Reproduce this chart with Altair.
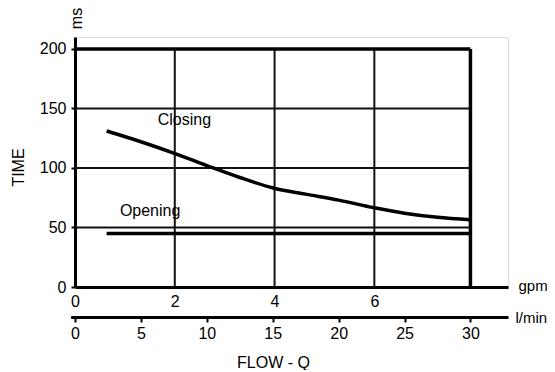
import altair as alt
import pandas as pd

# ---- data ----
FLOW_CLOSING = [2.4, 5.0, 7.6, 10.0, 12.5, 15.1, 17.5, 20.0, 22.7, 25.0, 27.5, 30.0]   # l/min
TIME_CLOSING = [131, 122, 112, 102, 92, 83, 78, 73, 66.5, 62, 58.5, 56.5]            # ms
FLOW_OPENING = [2.4, 30.0]
TIME_OPENING = [45, 45]

GPM_TICKS = [0, 2, 4, 6]
LMIN_TICKS = [0, 5, 10, 15, 20, 25, 30]
TIME_TICKS = [0, 50, 100, 150, 200]
GRID_TIME = [50, 100, 150]
GRID_GPM = [2, 4, 6]

LABELS = ["Closing", "Opening"]
LABEL_FLOW = [8.3, 5.7]
LABEL_TIME = [140, 64]

LPM_PER_GPM = 3.785
FLOW_MAX = LMIN_TICKS[-1]
TIME_MAX = TIME_TICKS[-1]
LMIN_DOMAIN = [-0.33, 32.85]
GPM_DOMAIN = [0, LMIN_DOMAIN[1] / LPM_PER_GPM]
TIME_DOMAIN = [0, 210]

W, H = 433, 250
FONT = "Liberation Sans, Arial, sans-serif"
FS = 16
FS_UNIT = 15

ys = alt.Scale(domain=TIME_DOMAIN, nice=False, zero=False)
ls = alt.Scale(domain=LMIN_DOMAIN, range=[-4.35, W], nice=False, zero=False)
gs = alt.Scale(domain=GPM_DOMAIN, nice=False, zero=False)

yax = alt.Axis(values=TIME_TICKS, title="TIME", titleFont=FONT, titleFontSize=FS,
               titleFontWeight="normal", titleColor="black", titleAngle=270,
               titleAlign="center", titleBaseline="middle", titleX=-57, titleY=130,
               labelFont=FONT, labelFontSize=FS, labelColor="black", labelPadding=5,
               tickSize=4, tickWidth=2, tickColor="black", domainWidth=3,
               domainColor="black", grid=False)

gpm_ax = alt.Axis(values=GPM_TICKS, orient="bottom", offset=0, ticks=False, labelPadding=6,
                  labelFont=FONT, labelFontSize=FS, labelColor="black", labelFlush=False,
                  domainWidth=3, domainColor="black", grid=False, format="d",
                  title="gpm", titleFont=FONT, titleFontSize=FS_UNIT, titleFontWeight="normal",
                  titleColor="black", titleAngle=0, titleAlign="left",
                  titleBaseline="middle", titleX=443, titleY=-2)

lmin_ax = alt.Axis(values=LMIN_TICKS, orient="bottom", offset=30, tickSize=5, tickWidth=2,
                   tickColor="black", labelPadding=3, labelFont=FONT, labelFontSize=FS,
                   labelColor="black", labelFlush=False, domainWidth=3, domainColor="black",
                   grid=False, format="d",
                   title="FLOW - Q", titleFont=FONT, titleFontSize=FS, titleFontWeight="normal",
                   titleColor="black", titleAngle=0, titleAlign="center",
                   titleBaseline="middle", titleX=198, titleY=45)

lmin_unit_ax = alt.Axis(orient="bottom", offset=30, domain=False, ticks=False, labels=False,
                        grid=False, title="l/min", titleFont=FONT, titleFontSize=FS_UNIT,
                        titleFontWeight="normal", titleColor="black", titleAngle=0,
                        titleAlign="left", titleBaseline="middle", titleX=440, titleY=0)

df_h = pd.DataFrame({"y": GRID_TIME, "x0": 0, "x1": FLOW_MAX})
df_v = pd.DataFrame({"g": GRID_GPM, "y0": 0, "y1": TIME_MAX})
df_b = pd.DataFrame({"x0": [0, FLOW_MAX], "x1": [FLOW_MAX, FLOW_MAX],
                     "y0": [TIME_MAX, 0], "y1": [TIME_MAX, TIME_MAX]})
df_c = pd.DataFrame({"q": FLOW_CLOSING, "t": TIME_CLOSING})
df_o = pd.DataFrame({"q": FLOW_OPENING, "t": TIME_OPENING})
df_l = pd.DataFrame({"q": LABEL_FLOW, "t": LABEL_TIME, "s": LABELS})

hgrid = alt.Chart(df_h).mark_rule(color="#111", strokeWidth=2).encode(
    x=alt.X("x0:Q", scale=ls, axis=None), x2="x1:Q",
    y=alt.Y("y:Q", scale=ys, axis=yax))

vgrid = alt.Chart(df_v).mark_rule(color="#111", strokeWidth=2).encode(
    x=alt.X("g:Q", scale=gs, axis=gpm_ax),
    y=alt.Y("y0:Q", scale=ys, axis=yax), y2="y1:Q")

border = alt.Chart(df_b).mark_rule(color="black", strokeWidth=3.5).encode(
    x=alt.X("x0:Q", scale=ls, axis=None), x2="x1:Q",
    y=alt.Y("y0:Q", scale=ys, axis=yax), y2="y1:Q")

closing = alt.Chart(df_c).mark_line(color="black", strokeWidth=3.5, interpolate="monotone").encode(
    x=alt.X("q:Q", scale=ls, axis=lmin_ax),
    y=alt.Y("t:Q", scale=ys, axis=yax))

opening = alt.Chart(df_o).mark_line(color="black", strokeWidth=3.5).encode(
    x=alt.X("q:Q", scale=ls, axis=lmin_unit_ax),
    y=alt.Y("t:Q", scale=ys, axis=yax))

labels = alt.Chart(df_l).mark_text(font=FONT, fontSize=FS, color="black",
                                   align="center", baseline="middle").encode(
    x=alt.X("q:Q", scale=ls, axis=None),
    y=alt.Y("t:Q", scale=ys, axis=yax), text="s:N")

unit = alt.Chart(pd.DataFrame({"s": ["ms"]})).mark_text(
    font=FONT, fontSize=FS, color="black", angle=270, align="center", baseline="middle").encode(
    x=alt.value(2), y=alt.value(-18.5), text="s:N")

topline = alt.Chart(pd.DataFrame({"a": [0]})).mark_rule(color="#555", strokeWidth=1.5).encode(
    x=alt.value(-67), x2=alt.value(472), y=alt.value(-34))

chart = alt.layer(hgrid, vgrid, border, opening, closing, labels, unit, topline).resolve_scale(
    x="independent").properties(
    width=W, height=H,
    autosize=alt.AutoSizeParams(type="none"),
    padding={"left": 67, "top": 29, "right": 39, "bottom": 83},
).configure_view(stroke=None).configure(background="white")

chart.save("out.html", embed_options={"renderer": "svg", "actions": False})
